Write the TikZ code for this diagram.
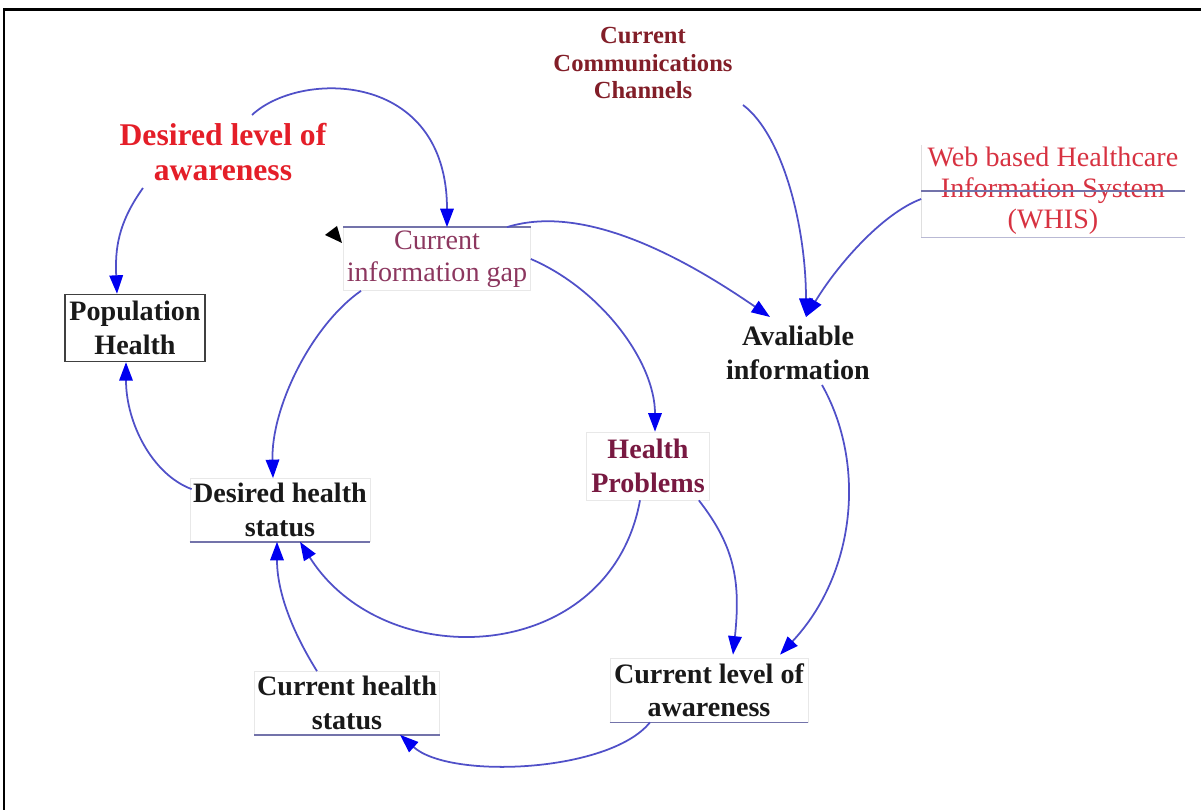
\documentclass[tikz,border=0pt]{standalone}
\usepackage{fontspec}
\setmainfont{Liberation Serif}
\usetikzlibrary{arrows.meta}

\definecolor{linkblue}{RGB}{80,80,200}
\definecolor{tipblue}{RGB}{0,0,240}
\definecolor{chanred}{RGB}{130,30,40}
\definecolor{wantred}{RGB}{228,30,40}
\definecolor{gapmauve}{RGB}{140,55,95}
\definecolor{webred}{RGB}{215,50,65}
\definecolor{probred}{RGB}{120,25,65}
\definecolor{edgegray}{RGB}{115,115,170}

\tikzset{
  varbold/.style={align=center, font=\fontsize{16}{19}\selectfont\bfseries, text=black!90},
  varplain/.style={align=center, font=\fontsize{16}{18.5}\selectfont},
  vbox/.style={draw=gray!18, inner sep=1pt},
  link/.style={draw=linkblue, line width=1pt, -{Triangle[length=0.37cm,width=0.27cm,color=tipblue]}},
  boxedge/.style={draw=edgegray, line width=0.8pt},
}

\begin{document}
\begin{tikzpicture}[x=0.02cm,y=0.02cm]
\useasboundingbox (0,0) rectangle (1201,810);
% frame
\draw[line width=1.7pt] (4,0) -- (4,800) -- (1201,800);

% variables
\node[align=center, text=chanred, font=\fontsize{14}{15.5}\selectfont\bfseries] (ccc) at (643,747) {Current\\Communications\\Channels};
\node[align=center, text=wantred, font=\fontsize{18}{20}\selectfont\bfseries] (dla) at (223,658) {Desired level of\\awareness};
\node[varbold, draw=black!75, line width=0.8pt, inner sep=1pt, minimum width=2.8cm, minimum height=1.34cm] (ph) at (135,482) {Population\\Health};
\node[varplain, vbox, text=gapmauve, minimum width=3.74cm, minimum height=1.26cm] (cig) at (437,551) {Current\\information gap};
\node[varplain, inner sep=1pt, text=webred, font=\fontsize{16}{17.6}\selectfont, minimum width=5.26cm, minimum height=1.84cm] (whis) at (1053,619) {Web based Healthcare\\Information System\\(WHIS)};
\node[varbold] (ai) at (798,457) {Avaliable\\information};
\node[varbold, vbox, text=probred, minimum width=2.46cm, minimum height=1.36cm] (hp) at (648,344) {Health\\Problems};
\node[varbold, vbox, minimum width=3.6cm, minimum height=1.26cm] (dhs) at (280,300) {Desired health\\status};
\node[varbold, vbox, minimum width=3.7cm, minimum height=1.26cm] (chs) at (347,107) {Current health\\status};
\node[varbold, vbox, minimum width=3.96cm, minimum height=1.28cm] (cla) at (709,120) {Current level of\\awareness};

% box edges
\draw[boxedge] (cig.north west) -- (cig.north east);
\draw[boxedge] (dhs.south west) -- (dhs.south east);
\draw[boxedge] (chs.south west) -- (chs.south east);
\draw[boxedge] (cla.south west) -- (cla.south east);
\draw[gray!25] (whis.north west) -- (whis.south west);
\draw[boxedge] (whis.west) -- (whis.east);
\draw[boxedge, draw=edgegray!50] (whis.south west) -- (whis.south east);

% cursor
\fill (325,575) -- (337,584) -- (342,567) -- cycle;

% links
\draw[link] ([shift={(29,37)}]dla.center) .. controls +(48,45) and +(0,157) .. ([shift={(10,0)}]cig.north);
\draw[link] ([shift={(-80,-36)}]dla.center) .. controls +(-25,-35) and +(-2,45) .. ([shift={(-18,0)}]ph.north);
\draw[link] ([shift={(2,-11)}]dhs.north west) .. controls +(-40,15) and +(0,-60) .. ([shift={(-9,0)}]ph.south);
\draw[link] ([shift={(-76,0)}]cig.south) .. controls +(-50,-35) and +(-2,70) .. ([shift={(-7,0)}]dhs.north);
\draw[link] (cig.east) .. controls +(70,-30) and +(0,70) .. ([shift={(7,0)}]hp.north);
\draw[link] ([shift={(70,0)}]cig.north) .. controls +(80,25) and +(-80,55) .. ([shift={(-28,36)}]ai.center);
\draw[link] ([shift={(100,-42)}]ccc.center) .. controls +(40,-30) and +(0,90) .. ([shift={(8,36)}]ai.center);
\draw[link] ([shift={(0,-8)}]whis.west) .. controls +(-40,-15) and +(30,50) .. ([shift={(8,36)}]ai.center);
\draw[link] ([shift={(24,-32)}]ai.center) .. controls +(45,-80) and +(75,80) .. ([shift={(71,3)}]cla.north);
\draw[link] ([shift={(-11,0)}]hp.south east) .. controls +(35,-45) and +(8,75) .. ([shift={(24,3)}]cla.north);
\draw[link] ([shift={(-8,0)}]hp.south) .. controls +(-30,-165) and +(85,-135) .. ([shift={(20,0)}]dhs.south);
\draw[link] ([shift={(-59,0)}]cla.south) .. controls +(-40,-50) and +(50,-45) .. ([shift={(53,0)}]chs.south);
\draw[link] ([shift={(-30,0)}]chs.north) .. controls +(-25,40) and +(0,-50) .. ([shift={(-3,0)}]dhs.south);
\end{tikzpicture}
\end{document}
